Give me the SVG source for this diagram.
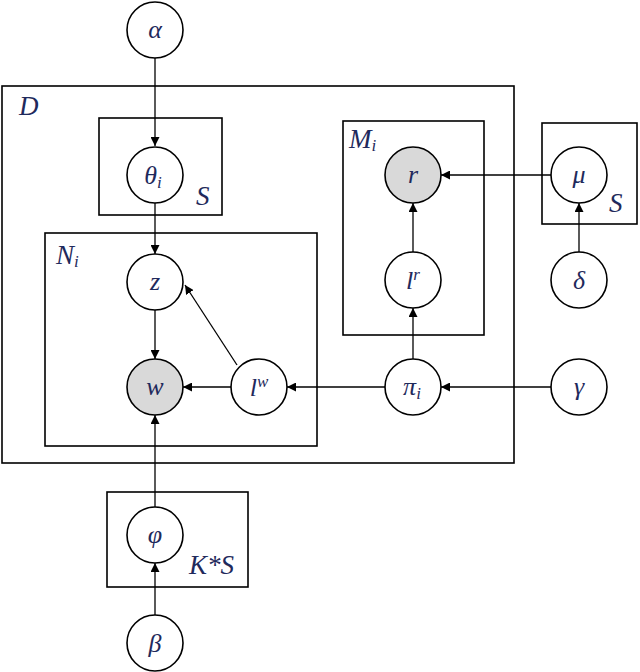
<svg xmlns="http://www.w3.org/2000/svg" width="640" height="672" viewBox="0 0 640 672">
<style>
.plate{fill:none;stroke:#000;stroke-width:1.6}
.n{fill:#fff;stroke:#000;stroke-width:1.6}
.obs{fill:#d9d9d9;stroke:#000;stroke-width:1.6}
text{font-family:'Liberation Serif','DejaVu Serif',serif;font-style:italic;fill:#1f2a5c}
.t{font-size:26px;text-anchor:middle}
.pl{font-size:27px}
.sub{font-size:17px}
.e{stroke:#000;stroke-width:1.3;fill:none;marker-end:url(#ah)}
</style>
<defs>
<marker id="ah" viewBox="0 0 10 10" refX="10" refY="5" markerWidth="9" markerHeight="9" markerUnits="userSpaceOnUse" orient="auto">
<path d="M0,0 L10,5 L0,10 z" fill="#000"/>
</marker>
</defs>
<rect width="640" height="672" fill="#fff"/>
<g id="plates">
<rect id="plate-D" class="plate" x="2" y="86" width="512" height="377"/>
<rect id="plate-S-theta" class="plate" x="99" y="118" width="123" height="97"/>
<rect id="plate-N" class="plate" x="45" y="233" width="272" height="213"/>
<rect id="plate-M" class="plate" x="343" y="121" width="141" height="214"/>
<rect id="plate-S-mu" class="plate" x="542" y="123" width="95" height="101"/>
<rect id="plate-KS" class="plate" x="107" y="492" width="141" height="95"/>
<text class="pl" x="19" y="115">D</text>
<text class="pl" x="196" y="205">S</text>
<text class="pl" x="56" y="264">N<tspan class="sub" dy="3">i</tspan></text>
<text class="pl" x="349" y="148">M<tspan class="sub" dy="3">i</tspan></text>
<text class="pl" x="609" y="212">S</text>
<text class="pl" x="189" y="574">K*S</text>
</g>
<g id="connectors">
<line class="e" x1="155" y1="58" x2="155" y2="146"/>
<line class="e" x1="155" y1="203" x2="155" y2="254"/>
<line class="e" x1="155" y1="310" x2="155" y2="359"/>
<line class="e" x1="237" y1="365" x2="185" y2="285"/>
<line class="e" x1="231" y1="387" x2="183" y2="387"/>
<line class="e" x1="385" y1="387" x2="287" y2="387"/>
<line class="e" x1="551" y1="387" x2="441" y2="387"/>
<line class="e" x1="413" y1="359" x2="413" y2="308"/>
<line class="e" x1="413" y1="252" x2="413" y2="203"/>
<line class="e" x1="551" y1="175" x2="441" y2="175"/>
<line class="e" x1="579" y1="252" x2="579" y2="203"/>
<line class="e" x1="155" y1="507" x2="155" y2="415"/>
<line class="e" x1="155" y1="615" x2="155" y2="563"/>
</g>
<g id="node-alpha"><circle class="n" cx="155" cy="30" r="28"/><text class="t" x="155" y="38">α</text></g>
<g id="node-theta"><circle class="n" cx="155" cy="175" r="28"/><text class="t" x="153" y="184">θ<tspan class="sub" dy="4">i</tspan></text></g>
<g id="node-z"><circle class="n" cx="155" cy="282" r="28"/><text class="t" x="155" y="290">z</text></g>
<g id="node-w"><circle class="obs" cx="155" cy="387" r="28"/><text class="t" x="155" y="395">w</text></g>
<g id="node-lw"><circle class="n" cx="259" cy="387" r="28"/><text class="t" x="259" y="396">l<tspan class="sub" dy="-9">w</tspan></text></g>
<g id="node-r"><circle class="obs" cx="413" cy="175" r="28"/><text class="t" x="413" y="183">r</text></g>
<g id="node-lr"><circle class="n" cx="413" cy="280" r="28"/><text class="t" x="413" y="289">l<tspan class="sub" dy="-9">r</tspan></text></g>
<g id="node-pi"><circle class="n" cx="413" cy="387" r="28"/><text class="t" x="412" y="395">π<tspan class="sub" dy="4">i</tspan></text></g>
<g id="node-mu"><circle class="n" cx="579" cy="175" r="28"/><text class="t" x="579" y="183">μ</text></g>
<g id="node-delta"><circle class="n" cx="579" cy="280" r="28"/><text class="t" x="579" y="289">δ</text></g>
<g id="node-gamma"><circle class="n" cx="579" cy="387" r="28"/><text class="t" x="579" y="395">γ</text></g>
<g id="node-phi"><circle class="n" cx="155" cy="535" r="28"/><text class="t" x="155" y="543">φ</text></g>
<g id="node-beta"><circle class="n" cx="155" cy="643" r="28"/><text class="t" x="155" y="652">β</text></g>
</svg>
